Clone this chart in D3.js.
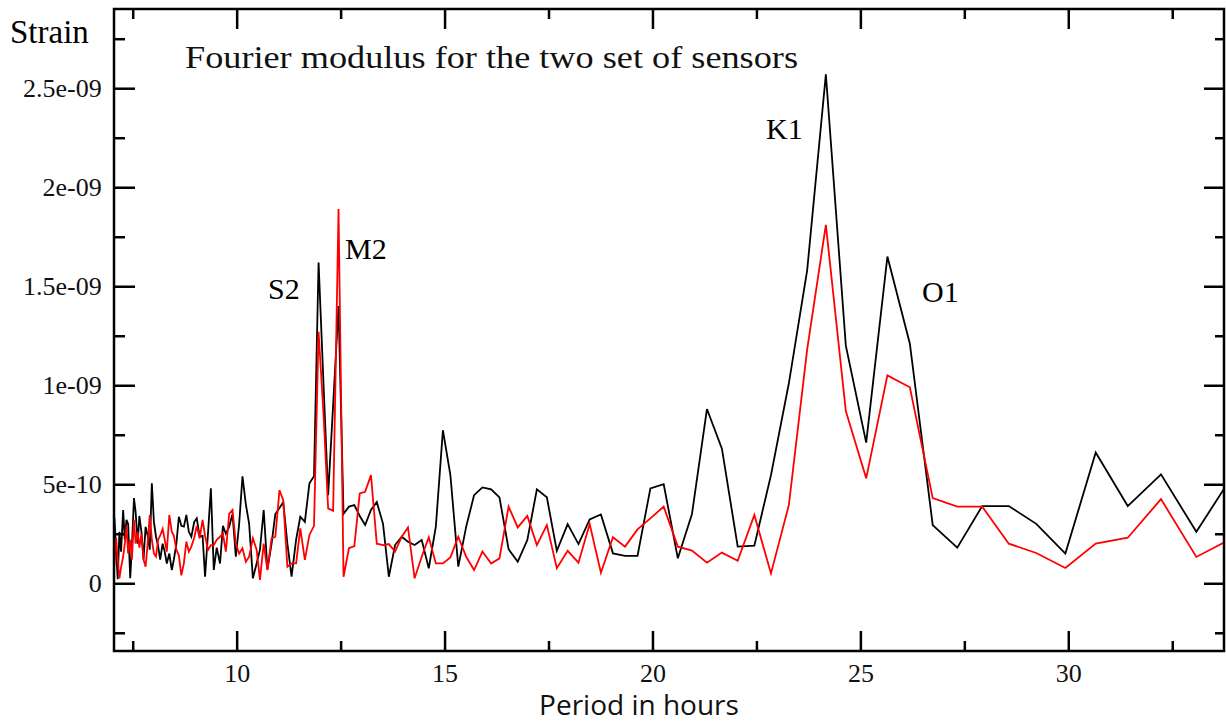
<!DOCTYPE html>
<html><head><meta charset="utf-8">
<script src="https://cdn.jsdelivr.net/npm/d3@7"></script>
<style>body{margin:0;background:#fff;overflow:hidden}</style>
</head><body>
<svg id="chart" width="1226" height="726"></svg>
<script>
// Period in hours (x values)
const periods = [
  6.98, 7.02, 7.06, 7.10, 7.14, 7.18, 7.22, 7.27, 7.31, 7.35,
  7.39, 7.44, 7.48, 7.53, 7.57, 7.62, 7.66, 7.71, 7.76, 7.81,
  7.86, 7.91, 7.96, 8.01, 8.06, 8.11, 8.16, 8.22, 8.27, 8.32,
  8.38, 8.44, 8.49, 8.55, 8.61, 8.67, 8.73, 8.79, 8.85, 8.91,
  8.98, 9.04, 9.11, 9.18, 9.24, 9.31, 9.38, 9.45, 9.52, 9.60,
  9.67, 9.74, 9.82, 9.90, 9.98, 10.06, 10.14, 10.22, 10.30, 10.39,
  10.48, 10.56, 10.65, 10.74, 10.84, 10.93, 11.03, 11.12, 11.22, 11.32,
  11.43, 11.53, 11.64, 11.75, 11.86, 11.97, 12.09, 12.20, 12.32, 12.45,
  12.57, 12.70, 12.83, 12.96, 13.09, 13.23, 13.37, 13.52, 13.66, 13.81,
  13.97, 14.12, 14.28, 14.45, 14.62, 14.79, 14.96, 15.14, 15.33, 15.52,
  15.71, 15.91, 16.12, 16.32, 16.54, 16.76, 16.99, 17.22, 17.46, 17.70,
  17.96, 18.22, 18.49, 18.76, 19.05, 19.34, 19.64, 19.95, 20.27, 20.61,
  20.95, 21.31, 21.67, 22.05, 22.45, 22.85, 23.28, 23.72, 24.17, 24.65,
  25.14, 25.65, 26.19, 26.74, 27.33, 27.93, 28.57, 29.23, 29.93, 30.66,
  31.43, 32.23, 33.08, 33.97
];
// Fourier modulus, first set of sensors (black), in units of 1e-10
const setOne = [
  2.5, 0.8, 3.3, 1.7, 0.2, 2.6, 1.6, 3.7, 2.2, 3.2,
  3.0, 0.25, 1.8, 4.3, 3.6, 2.0, 3.4, 2.6, 1.2, 2.85,
  2.4, 1.7, 5.05, 3.1, 2.35, 1.9, 1.2, 2.0, 1.6, 1.0,
  1.5, 0.67, 1.2, 2.0, 3.36, 2.9, 2.86, 3.45, 2.6, 2.35,
  3.1, 3.28, 2.35, 2.4, 0.33, 2.5, 4.8, 0.67, 1.8, 1.0,
  2.9, 2.5, 2.86, 3.5, 1.34, 3.0, 5.4, 4.0, 3.0, 0.25,
  1.0, 1.7, 3.7, 0.7, 2.0, 3.5, 3.8, 4.1, 2.0, 0.33,
  2.2, 3.36, 3.1, 5.05, 5.4, 16.2, 10.0, 4.45, 9.0, 14.0,
  3.5, 3.87, 3.95, 3.4, 2.94, 3.7, 4.1, 3.0, 0.33, 1.93,
  2.35, 2.1, 1.93, 2.18, 0.76, 2.86, 7.73, 5.46, 0.84, 2.86,
  4.45, 4.84, 4.74, 4.34, 1.72, 1.09, 2.18, 4.74, 4.34, 1.64,
  2.99, 1.98, 3.23, 3.48, 1.51, 1.38, 1.38, 4.79, 5.0, 1.26,
  3.5, 8.8, 6.8, 1.85, 1.9, 5.46, 10.1, 15.8, 25.7, 12.0,
  7.1, 16.5, 12.1, 2.94, 1.8, 3.9, 3.9, 3.0, 1.5, 6.6,
  3.9, 5.5, 2.6, 5.5
];
// Fourier modulus, second set of sensors (red), in units of 1e-10
const setTwo = [
  1.8, 2.4, 0.9, 2.3, 1.2, 0.25, 0.8, 1.35, 2.0, 2.9,
  1.5, 2.2, 1.2, 3.2, 2.0, 2.6, 1.8, 2.5, 1.2, 0.84,
  2.0, 3.45, 2.2, 1.5, 1.35, 2.2, 2.4, 2.75, 2.2, 1.6,
  3.45, 2.6, 2.4, 1.7, 1.4, 0.4, 1.0, 2.1, 1.6, 1.85,
  2.3, 2.9, 2.27, 3.2, 2.4, 1.68, 1.93, 1.93, 2.2, 2.35,
  2.5, 1.6, 3.5, 3.7, 2.0, 1.5, 1.77, 1.09, 1.34, 2.27,
  1.7, 0.17, 2.0, 0.67, 2.27, 2.35, 4.7, 4.2, 0.84, 1.0,
  1.0, 2.77, 1.18, 2.44, 2.9, 12.7, 8.5, 3.78, 3.66, 18.9,
  0.33, 1.77, 1.88, 4.54, 4.62, 5.46, 2.0, 1.93, 1.98, 1.6,
  2.35, 2.82, 0.25, 1.34, 2.32, 1.0, 1.0, 1.31, 2.35, 1.34,
  0.67, 1.6, 1.0, 1.26, 3.87, 2.82, 3.4, 1.93, 2.94, 0.76,
  1.64, 1.04, 2.99, 0.53, 2.32, 1.85, 2.72, 3.28, 3.87, 1.85,
  1.65, 1.04, 1.55, 1.14, 3.45, 0.5, 3.95, 11.8, 18.1, 8.7,
  5.3, 10.5, 9.9, 4.3, 3.87, 3.87, 2.0, 1.53, 0.77, 2.0,
  2.3, 4.25, 1.33, 2.3
];
const xMajorTicks = [10, 15, 20, 25, 30];
const xMajorLabels = ["10", "15", "20", "25", "30"];
const xMinorTicks = [7.5, 12.5, 17.5, 22.5, 27.5, 32.5];
const yMajorTicks = [0, 5, 10, 15, 20, 25];
const yMajorLabels = ["0", "5e-10", "1e-09", "1.5e-09", "2e-09", "2.5e-09"];
const yMinorTicks = [-2.5, 2.5, 7.5, 12.5, 17.5, 22.5, 27.5];
const peakNames = ["S2", "M2", "K1", "O1"];
const titleText = "Fourier modulus for the two set of sensors";
const xTitle = "Period in hours";
const yTitle = "Strain";

const svg = d3.select("#chart");
const L = 114, R = 1224, T = 9, B = 651;
const x = d3.scaleLinear().domain([7.05, 33.745]).range([L, R]);
const y = d3.scaleLinear().domain([-3.42, 29.0]).range([B, T]);
const serif = "'Liberation Serif', 'Times New Roman', Times, serif";

svg.append("defs").append("clipPath").attr("id", "plot")
  .append("rect").attr("x", L).attr("y", T).attr("width", R - L).attr("height", B - T);

const n = Math.min(periods.length, setOne.length, setTwo.length);
const dataOne = d3.range(n).map(i => [periods[i], setOne[i]]);
const dataTwo = d3.range(n).map(i => [periods[i], setTwo[i]]);
const line = d3.line().x(d => x(d[0])).y(d => y(d[1]));

const g = svg.append("g").attr("clip-path", "url(#plot)");
g.append("path").datum(dataOne).attr("d", line)
  .attr("fill", "none").attr("stroke", "#000").attr("stroke-width", 1.8);
g.append("path").datum(dataTwo).attr("d", line)
  .attr("fill", "none").attr("stroke", "#ff0000").attr("stroke-width", 1.8);

function styleAxis(sel) {
  sel.attr("font-family", null).attr("font-size", null);
  sel.select(".domain").remove();
  sel.selectAll(".tick line").attr("stroke", "#000").attr("stroke-width", 2.5);
  sel.selectAll(".tick text").style("font-family", serif).style("font-size", "26px").attr("fill", "#111");
}
// bottom
svg.append("g").attr("transform", `translate(0,${B})`)
  .call(d3.axisBottom(x).tickValues(xMajorTicks).tickSize(-20).tickPadding(12.5)
    .tickFormat((d, i) => xMajorLabels[i])).call(styleAxis);
svg.append("g").attr("transform", `translate(0,${B})`)
  .call(d3.axisBottom(x).tickValues(xMinorTicks).tickSize(-10).tickFormat("")).call(styleAxis);
// top
svg.append("g").attr("transform", `translate(0,${T})`)
  .call(d3.axisTop(x).tickValues(xMajorTicks).tickSize(-20).tickFormat("")).call(styleAxis);
svg.append("g").attr("transform", `translate(0,${T})`)
  .call(d3.axisTop(x).tickValues(xMinorTicks).tickSize(-10).tickFormat("")).call(styleAxis);
// left
svg.append("g").attr("transform", `translate(${L},0)`)
  .call(d3.axisLeft(y).tickValues(yMajorTicks).tickSize(-21).tickPadding(12.3)
    .tickFormat((d, i) => yMajorLabels[i])).call(styleAxis);
svg.append("g").attr("transform", `translate(${L},0)`)
  .call(d3.axisLeft(y).tickValues(yMinorTicks).tickSize(-11).tickFormat("")).call(styleAxis);
// right
svg.append("g").attr("transform", `translate(${R},0)`)
  .call(d3.axisRight(y).tickValues(yMajorTicks).tickSize(-20).tickFormat("")).call(styleAxis);
svg.append("g").attr("transform", `translate(${R},0)`)
  .call(d3.axisRight(y).tickValues(yMinorTicks).tickSize(-9).tickFormat("")).call(styleAxis);

// frame
svg.append("rect").attr("x", L).attr("y", T).attr("width", R - L).attr("height", B - T)
  .attr("fill", "none").attr("stroke", "#000").attr("stroke-width", 2.5);

// texts
svg.append("text").attr("x", 10).attr("y", 43).style("font-family", serif)
  .style("font-size", "33px").attr("fill", "#000").text(yTitle);
svg.append("text").attr("x", 185).attr("y", 68).style("font-family", serif)
  .style("font-size", "32px").attr("fill", "#111").attr("textLength", 613)
  .attr("lengthAdjust", "spacingAndGlyphs").text(titleText);
svg.append("text").attr("x", 639).attr("y", 715).attr("text-anchor", "middle")
  .style("font-family", "'Open Sans', 'Noto Sans', sans-serif").style("font-size", "28px")
  .attr("fill", "#111").text(xTitle);

const peakPos = [[268, 299], [345, 259], [766, 139], [922, 302]];
svg.selectAll(".peak").data(peakNames).enter().append("text")
  .attr("x", (d, i) => peakPos[i][0]).attr("y", (d, i) => peakPos[i][1])
  .style("font-family", serif).style("font-size", "30px").attr("fill", "#000").text(d => d);
</script>
</body></html>
